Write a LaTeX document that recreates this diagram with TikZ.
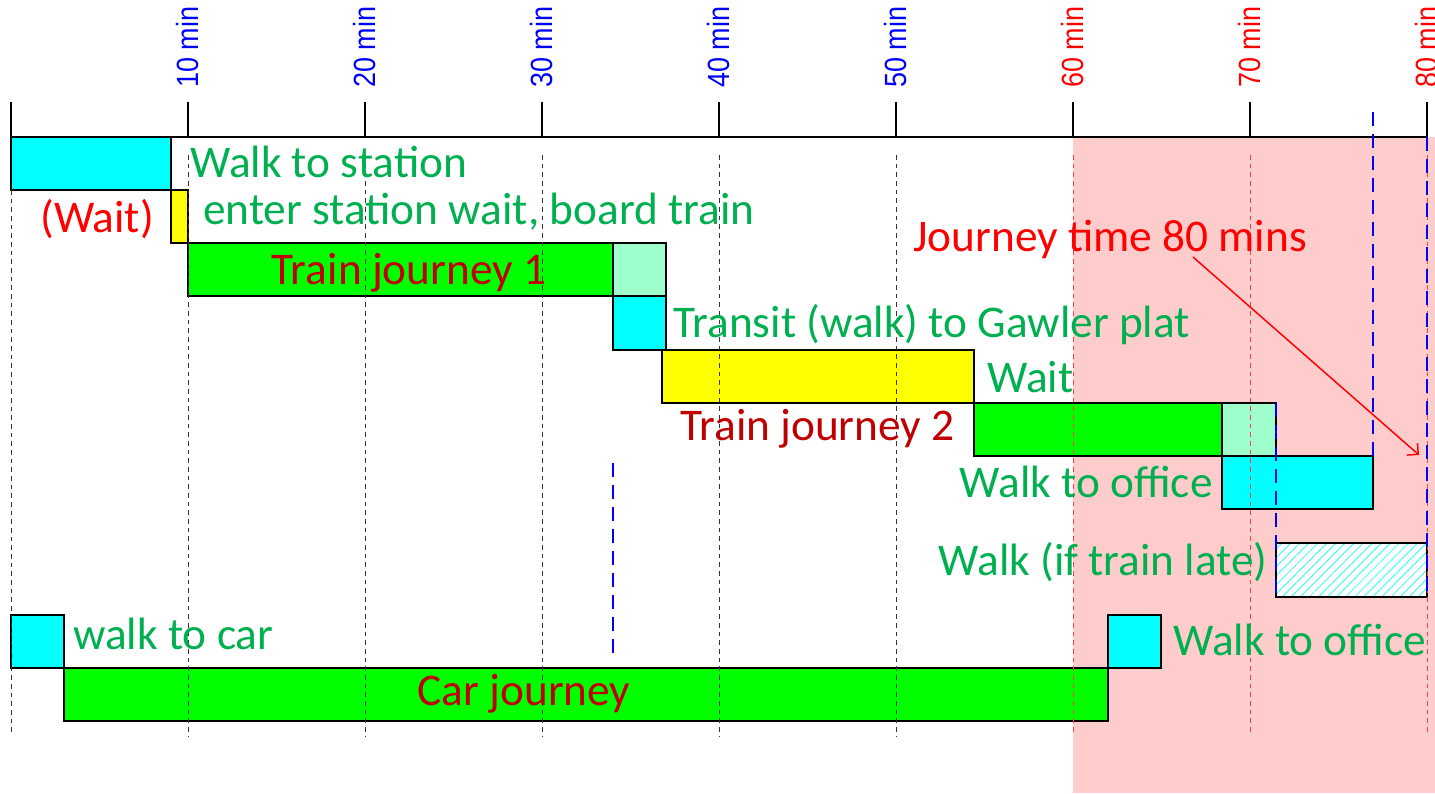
\documentclass[tikz,border=0pt]{standalone}
\usepackage{fontspec}
\setmainfont{Carlito}
\newfontfamily\arialfont[FakeStretch=0.88]{Liberation Sans}
\usetikzlibrary{patterns.meta,arrows.meta}
\definecolor{lblgreen}{HTML}{00B050}
\definecolor{darkred}{HTML}{C00000}
\definecolor{pinkbg}{HTML}{FFCCCC}
\definecolor{aqua}{HTML}{9FFFCC}
\definecolor{brightgreen}{HTML}{00FF00}
\definecolor{cyanfill}{HTML}{00FFFF}
\definecolor{yellowfill}{HTML}{FFFF00}
\definecolor{gridred}{HTML}{FF4040}
\definecolor{tickblue}{HTML}{0000FF}
\definecolor{tickred}{HTML}{FF0000}
\begin{document}
\begin{tikzpicture}[x=0.75pt,y=-0.75pt,
  box/.style={draw=black,line width=1.5pt},
  lbl/.style={font=\fontsize{34}{40}\selectfont,inner sep=0pt},
  ticklbl/.style={font=\arialfont\fontsize{23}{27}\selectfont,rotate=90,anchor=west,inner sep=0pt},
  gridline/.style={black!80,line width=0.75pt,dash pattern=on 3.5pt off 3pt},
  redgrid/.style={gridred,line width=0.75pt,dash pattern=on 3.5pt off 3pt},
  bluedash/.style={tickblue,line width=1.5pt,dash pattern=on 10.5pt off 6pt},
  axisline/.style={black,line width=1.5pt}
]
\useasboundingbox (0,0) rectangle (1435,793);
% late zone
\fill[pinkbg] (1073,137) rectangle (1435,793);

% train journey boxes
\path[box,fill=cyanfill] (11,137) rectangle (171,190);
\path[box,fill=yellowfill] (171,190) rectangle (188,243);
\path[box,fill=brightgreen] (188,243) rectangle (613,296);
\path[box,fill=aqua] (613,243) rectangle (666,296);
\path[box,fill=cyanfill] (613,296) rectangle (666,350);
\path[box,fill=yellowfill] (662,350) rectangle (974,403);
\path[box,fill=brightgreen] (974,403) rectangle (1222,456);
\path[box,fill=aqua] (1222,403) rectangle (1276,456);
\path[box,fill=cyanfill] (1222,456) rectangle (1373,509);
\fill[white] (1276,543) rectangle (1427,597);
\fill[pattern={Lines[angle=45,distance=4.8pt,line width=0.5pt]},pattern color=cyanfill] (1276,543) rectangle (1427,597);
\draw[box] (1276,543) rectangle (1427,597);
% car journey boxes
\path[box,fill=cyanfill] (11,615) rectangle (64,668);
\path[box,fill=brightgreen] (64,668) rectangle (1108,721);
\path[box,fill=cyanfill] (1108,615) rectangle (1161,668);

% grid
\draw[gridline] (11,190) -- (11,736);
\foreach \gx in {188,365,542,719,896} \draw[gridline] (\gx,155) -- (\gx,736);
\foreach \gx in {1073,1250,1427} \draw[redgrid] (\gx,155) -- (\gx,734);

% axis
\draw[axisline] (11,137) -- (1427,137);
\foreach \gx in {11,188,365,542,719,896,1073,1250,1427} \draw[axisline] (\gx,102) -- (\gx,137);
\node[ticklbl,text=tickblue] (t10) at (188,88) {10 min};
\node[ticklbl,text=tickblue] (t20) at (365,88) {20 min};
\node[ticklbl,text=tickblue] (t30) at (542,88) {30 min};
\node[ticklbl,text=tickblue] (t40) at (719,88) {40 min};
\node[ticklbl,text=tickblue] (t50) at (896,88) {50 min};
\node[ticklbl,text=tickred] (t60) at (1073,88) {60 min};
\node[ticklbl,text=tickred] (t70) at (1250,88) {70 min};
\node[ticklbl,text=tickred] (t80) at (1427,88) {80 min};

% blue dashed markers
\draw[bluedash] (613,463) -- (613,656);
\draw[bluedash] (1276,403) -- (1276,597);
\draw[bluedash] (1373,112) -- (1373,456);
\draw[bluedash] (1427,137) -- (1427,597);

% labels
\node[lbl,text=lblgreen,anchor=base west] (walkst) at (190,177) {Walk to station};
\node[lbl,text=tickred,anchor=base west] (wait1) at (40,232) {(Wait)};
\node[lbl,text=lblgreen,anchor=base west] (enter) at (203,224) {enter station wait, board train};
\node[lbl,text=darkred,anchor=base] (tj1) at (409,284) {Train journey 1};
\node[lbl,text=lblgreen,anchor=base west] (transit) at (673,337) {Transit (walk) to Gawler plat};
\node[lbl,text=lblgreen,anchor=base west] (wait2) at (987,392) {Wait};
\node[lbl,text=darkred,anchor=base east] (tj2) at (955,440) {Train journey 2};
\node[lbl,text=lblgreen,anchor=base east] (wto1) at (1213,497) {Walk to office};
\node[lbl,text=lblgreen,anchor=base east] (wlate) at (1268,575) {Walk (if train late)};
\node[lbl,text=lblgreen,anchor=base west] (wcar) at (73,649) {walk to car};
\node[lbl,text=darkred,anchor=base] (cj) at (524,705) {Car journey};
\node[lbl,text=lblgreen,anchor=base west] (wto2) at (1173,655) {Walk to office};
\node[lbl,text=tickred,anchor=base west] (jt) at (913,251) {Journey time 80 mins};

% arrow
\coordinate (arrA) at (1193,257);
\coordinate (arrB) at (1419,455);
\draw[tickred,line width=1.1pt,-{Straight Barb[length=6pt,width=12pt]}] (arrA) -- (arrB);
\end{tikzpicture}
\end{document}
